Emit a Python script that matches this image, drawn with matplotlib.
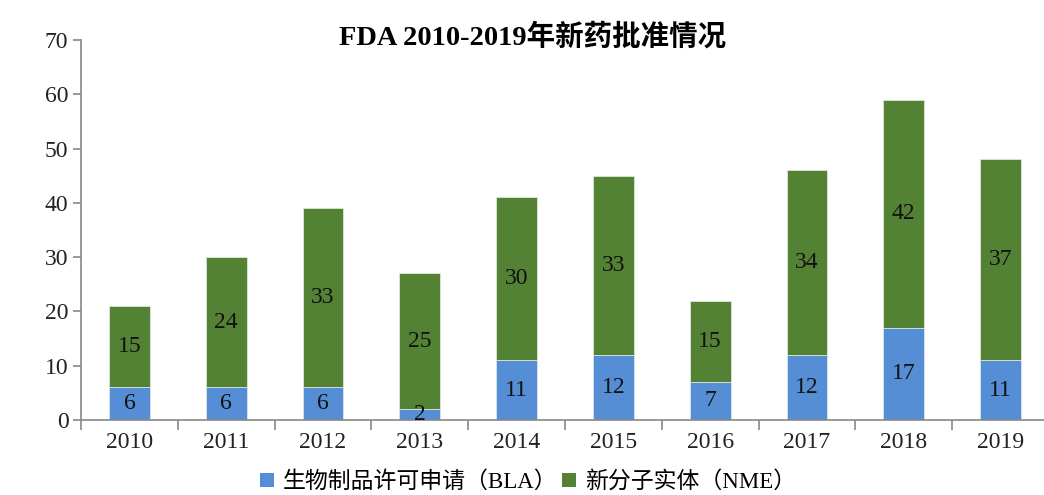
import matplotlib
matplotlib.use("Agg")
import matplotlib.pyplot as plt
from matplotlib.patches import Patch
import numpy as np

years = ["2010", "2011", "2012", "2013", "2014", "2015", "2016", "2017", "2018", "2019"]
bla = [6, 6, 6, 2, 11, 12, 7, 12, 17, 11]
nme = [15, 24, 33, 25, 30, 33, 15, 34, 42, 37]
title = "FDA 2010-2019年新药批准情况"
bla_label = "生物制品许可申请（BLA）"
nme_label = "新分子实体（NME）"
yticks = [0, 10, 20, 30, 40, 50, 60, 70]

SERIF = ["Liberation Serif", "Noto Sans CJK SC", "DejaVu Sans"]
plt.rcParams["font.family"] = SERIF

blue = "#558ed5"
green = "#548235"

fig = plt.figure(figsize=(10.44, 4.95), dpi=100)
ax = fig.add_axes([81/1044, 75/495, 968/1044, 380/495])

x = np.arange(len(years))
w = 0.42
ax.bar(x, bla, w, color=blue, edgecolor="#dce6f2", linewidth=0.6)
ax.bar(x, nme, w, bottom=bla, color=green, edgecolor="#dfe8d8", linewidth=0.6)

for xi, v in zip(x, bla):
    ax.text(xi, v/2, str(v), ha="center", va="center", fontsize=17, color="#111111")
for xi, v, b in zip(x, nme, bla):
    ax.text(xi, b + v/2, str(v), ha="center", va="center", fontsize=17, color="#111111")

ax.set_xlim(-0.5, len(years) - 0.5)
ax.set_ylim(0, 70)
ax.set_yticks(yticks)
ax.set_yticklabels([str(t) for t in yticks], fontsize=17, color="#222222")
ax.set_xticks(x)
ax.set_xticklabels(years, fontsize=17, color="#222222")
ax.tick_params(axis="x", length=0, pad=9)
ax.set_xticks(np.arange(-0.5, len(years), 1.0), minor=True)
ax.tick_params(axis="x", which="minor", length=7, width=1.2, color="#888888", direction="out")
ax.tick_params(axis="y", length=6, width=1.2, color="#888888", direction="out", pad=3)

for s in ["top", "right"]:
    ax.spines[s].set_visible(False)
for s in ["left", "bottom"]:
    ax.spines[s].set_color("#888888")
    ax.spines[s].set_linewidth(1.2)

fig.text(533/1044, 1 - 37/495, title, ha="center", va="center",
         fontsize=20.5, fontweight="bold", family=SERIF)

handles = [Patch(facecolor=blue, edgecolor="none"), Patch(facecolor=green, edgecolor="none")]
fig.legend(handles, [bla_label, nme_label], loc="center", bbox_to_anchor=(528/1044, 1 - 482/495),
           ncol=2, frameon=False, handlelength=0.6, handleheight=0.6,
           handletextpad=0.4, columnspacing=0.2, borderaxespad=0,
           prop={"family": SERIF, "size": 16.5})

fig.savefig("out.png", dpi=100)
